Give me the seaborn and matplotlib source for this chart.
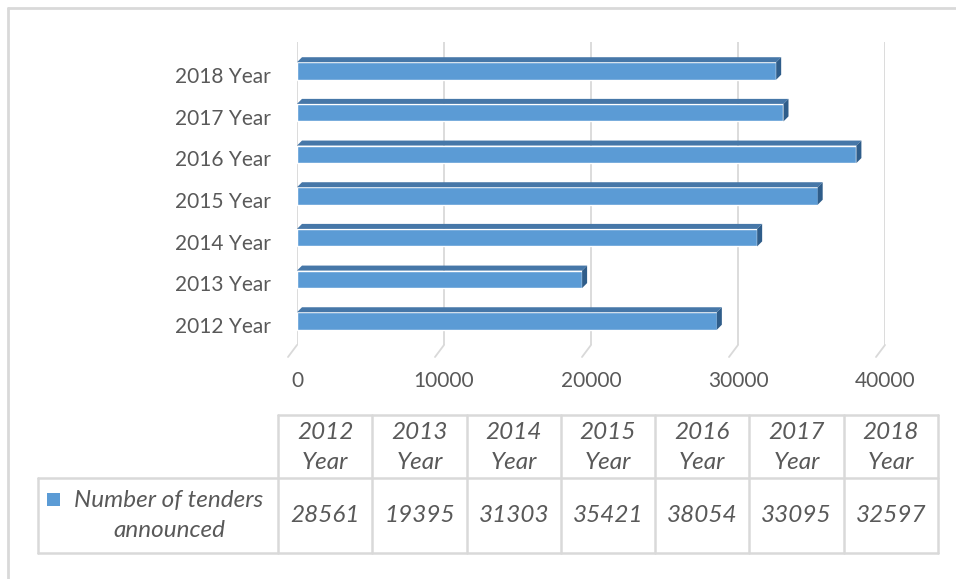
import numpy as np
import pandas as pd
import matplotlib.pyplot as plt
import seaborn as sns
import matplotlib.transforms as mtransforms
from matplotlib.patches import Polygon, Rectangle
from matplotlib.lines import Line2D

# --- data ---
years = ['2012 Year', '2013 Year', '2014 Year', '2015 Year', '2016 Year', '2017 Year', '2018 Year']
tenders = [28561, 19395, 31303, 35421, 38054, 33095, 32597]
series_name = 'Number of tenders\nannounced'
x_ticks = [0, 10000, 20000, 30000, 40000]

FRONT = '#5b9bd5'
TOP = '#4677a8'
SIDE = '#2f5d8a'
GRID = '#d9d9d9'
TEXT = '#595959'

df = pd.DataFrame({'Year': years, 'Tenders': tenders})

sns.set_style('white')
plt.rcParams['font.family'] = ['Lato', 'DejaVu Sans']

W, H = 956, 579
fig = plt.figure(figsize=(W / 100, H / 100), dpi=100)


def fx(px):
    return px / W


def fy(py):
    return 1 - py / H


# --- bar chart ---
ax_l, ax_r, ax_t, ax_b = 297, 885, 42, 345
ax = fig.add_axes([fx(ax_l), fy(ax_b), fx(ax_r) - fx(ax_l), fy(ax_t) - fy(ax_b)])
sns.barplot(data=df, x='Tenders', y='Year', order=years[::-1], color=FRONT,
            saturation=1, width=0.42, ax=ax, zorder=3)
ax.set_xlim(0, 40000)
ax.set_ylim(6.576, -0.695)

# fake 3D faces (offsets in pixels converted to data units)
dx = 5 * 40000 / (ax_r - ax_l)
dy = 5 * (6.576 + 0.695) / (ax_b - ax_t)
for p in ax.patches:
    x0, w = p.get_x(), p.get_width()
    yt, yb = p.get_y(), p.get_y() + p.get_height()
    ax.add_patch(Polygon([(x0, yt), (x0 + w, yt), (x0 + w + dx, yt - dy), (x0 + dx, yt - dy)],
                         closed=True, color=TOP, zorder=3, lw=0))
    ax.add_patch(Polygon([(x0 + w, yt), (x0 + w + dx, yt - dy), (x0 + w + dx, yb - dy), (x0 + w, yb)],
                         closed=True, color=SIDE, zorder=3, lw=0))

# gridlines + floor diagonals
for t in x_ticks:
    ax.axvline(t, color=GRID, lw=1.3, zorder=0)
    ax.add_line(Line2D([t, t - 9 * 40000 / (ax_r - ax_l)], [0, -12 / (ax_b - ax_t)],
                       transform=ax.get_xaxis_transform(), color=GRID, lw=1.3,
                       clip_on=False, zorder=0))

ax.set_xticks(x_ticks)
ax.set_xticklabels([str(t) for t in x_ticks])
ax.tick_params(axis='x', length=0, pad=19, labelcolor=TEXT, labelsize=15)
ax.tick_params(axis='y', length=0, pad=19, labelcolor=TEXT, labelsize=15)
# y labels sit a little lower than the bar fronts in the original
shift = mtransforms.ScaledTranslation(0, -4 / 100, fig.dpi_scale_trans)
for lbl in ax.get_yticklabels():
    lbl.set_transform(lbl.get_transform() + shift)
ax.set_xlabel('')
ax.set_ylabel('')
sns.despine(ax=ax, left=True, bottom=True)

# --- data table ---
t_left, t_right = 278, 938
r_top, r_mid, r_bot = 415, 478, 553
leg_left = 38
col_w = (t_right - t_left) / len(years)


def hline(x1, x2, y):
    fig.add_artist(Line2D([fx(x1), fx(x2)], [fy(y), fy(y)], color=GRID, lw=1.8))


def vline(x, y1, y2):
    fig.add_artist(Line2D([fx(x), fx(x)], [fy(y1), fy(y2)], color=GRID, lw=1.8))


hline(t_left, t_right, r_top)
hline(leg_left, t_right, r_mid)
hline(leg_left, t_right, r_bot)
vline(leg_left, r_mid, r_bot)
for i in range(len(years) + 1):
    vline(t_left + i * col_w, r_top, r_bot)

for i, (yr, v) in enumerate(zip(years, tenders)):
    cx = t_left + (i + 0.5) * col_w
    fig.text(fx(cx), fy((r_top + r_mid) / 2 + 1), yr.replace(' ', '\n'), ha='center', va='center',
             fontsize=17.5, style='italic', color=TEXT, linespacing=1.5)
    fig.text(fx(cx), fy((r_mid + r_bot) / 2), str(v), ha='center', va='center',
             fontsize=17.5, style='italic', color=TEXT)

fig.add_artist(Rectangle((fx(47), fy(506)), fx(13), 13 / H, color=FRONT, lw=0))
fig.text(fx(169), fy((r_mid + r_bot) / 2), series_name, ha='center', va='center',
         multialignment='center', fontsize=17.5, style='italic', color=TEXT, linespacing=1.5)

# outer chart border (top and left visible)
fig.add_artist(Line2D([fx(8), 1], [fy(8), fy(8)], color=GRID, lw=2))
fig.add_artist(Line2D([fx(8), fx(8)], [fy(8), 0], color=GRID, lw=2))

fig.savefig('out.png', dpi=100)
